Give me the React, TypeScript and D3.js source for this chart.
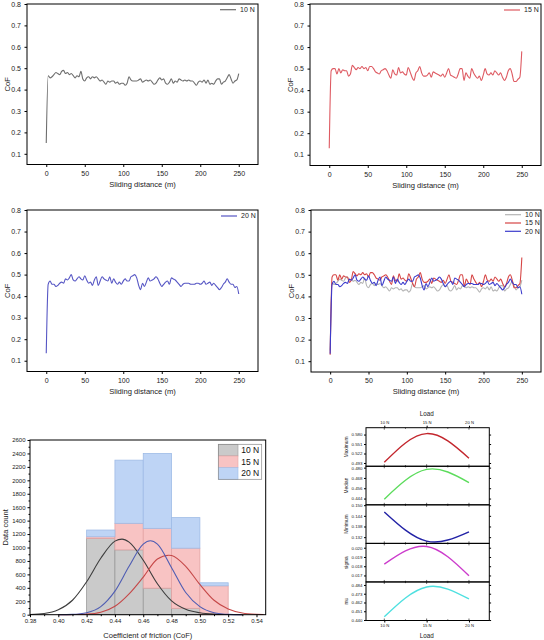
import React, { useEffect, useRef } from 'react';
import * as d3 from 'd3';

const FONT = 'Arial, "Liberation Sans", Helvetica, sans-serif';

// CoF readings, one every 2.5 m of sliding distance (0 .. 250 m)
const distance = d3.range(0, 250.001, 2.5);

const cof10 = [
  0.15, 0.465, 0.455, 0.46, 0.47, 0.48, 0.475, 0.47, 0.485, 0.49,
  0.475, 0.48, 0.47, 0.475, 0.465, 0.455, 0.465, 0.46, 0.485, 0.45,
  0.44, 0.455, 0.46, 0.45, 0.46, 0.455, 0.46, 0.45, 0.44, 0.445,
  0.435, 0.425, 0.44, 0.435, 0.44, 0.44, 0.43, 0.435, 0.425, 0.43,
  0.43, 0.42, 0.43, 0.46, 0.445, 0.44, 0.44, 0.44, 0.445, 0.45,
  0.435, 0.44, 0.445, 0.44, 0.445, 0.435, 0.425, 0.43, 0.445, 0.455,
  0.445, 0.45, 0.43, 0.425, 0.435, 0.45, 0.43, 0.44, 0.435, 0.45,
  0.445, 0.44, 0.445, 0.44, 0.445, 0.44, 0.44, 0.43, 0.42, 0.435,
  0.44, 0.435, 0.445, 0.43, 0.445, 0.425, 0.43, 0.425, 0.44, 0.45,
  0.45, 0.425, 0.435, 0.44, 0.455, 0.47, 0.45, 0.43, 0.44, 0.445,
  0.475,
];

const cof15 = [
  0.13, 0.49, 0.5, 0.5, 0.475, 0.5, 0.48, 0.495, 0.49, 0.49,
  0.465, 0.475, 0.515, 0.505, 0.495, 0.505, 0.5, 0.51, 0.5, 0.505,
  0.49, 0.51, 0.51, 0.5, 0.485, 0.48, 0.475, 0.49, 0.495, 0.5,
  0.49, 0.47, 0.455, 0.495, 0.475, 0.47, 0.505, 0.48, 0.485, 0.475,
  0.47, 0.505, 0.485, 0.46, 0.445, 0.48, 0.49, 0.51, 0.48, 0.465,
  0.465, 0.47, 0.48, 0.46, 0.485, 0.48, 0.475, 0.47, 0.465, 0.475,
  0.46, 0.48, 0.5, 0.47, 0.465, 0.46, 0.455, 0.475, 0.5, 0.5,
  0.445, 0.48, 0.465, 0.455, 0.5, 0.48, 0.465, 0.455, 0.465, 0.445,
  0.47, 0.5, 0.475, 0.47, 0.48, 0.47, 0.49, 0.48, 0.47, 0.48,
  0.46, 0.445, 0.46, 0.49, 0.5, 0.475, 0.44, 0.44, 0.45, 0.46,
  0.58,
];

const cof20 = [
  0.135, 0.455, 0.47, 0.455, 0.455, 0.445, 0.45, 0.46, 0.465, 0.46,
  0.48, 0.475, 0.485, 0.5, 0.475, 0.47, 0.48, 0.49, 0.48, 0.475,
  0.495, 0.475, 0.46, 0.465, 0.45, 0.475, 0.49, 0.45, 0.47, 0.49,
  0.48, 0.475, 0.47, 0.49, 0.46, 0.48, 0.465, 0.455, 0.465, 0.455,
  0.47, 0.48, 0.47, 0.47, 0.49, 0.495, 0.5, 0.485, 0.45, 0.43,
  0.46, 0.445, 0.465, 0.485, 0.47, 0.475, 0.48, 0.49, 0.48, 0.46,
  0.445, 0.455, 0.465, 0.47, 0.455, 0.485, 0.48, 0.475, 0.465, 0.455,
  0.445, 0.455, 0.46, 0.46, 0.46, 0.455, 0.455, 0.455, 0.46, 0.46,
  0.455, 0.46, 0.47, 0.455, 0.46, 0.465, 0.45, 0.46, 0.45, 0.44,
  0.43, 0.44, 0.455, 0.465, 0.48, 0.465, 0.455, 0.455, 0.44, 0.445,
  0.41,
];

const distanceTicks = [0, 50, 100, 150, 200, 250];
const cofTicks = [0.1, 0.2, 0.3, 0.4, 0.5, 0.6, 0.7, 0.8];

// histogram of CoF, stacked by load
const loadLabels = ['10 N', '15 N', '20 N'];
const binEdges = [0.42, 0.44, 0.46, 0.48, 0.5, 0.52];
const count10 = [1135, 965, 395, 95, 0];
const count15 = [25, 395, 890, 895, 430];
const count20 = [100, 940, 1115, 455, 45];
const histXTicks = [0.38, 0.4, 0.42, 0.44, 0.46, 0.48, 0.5, 0.52, 0.54];
const histYTicks = [0, 200, 400, 600, 800, 1000, 1200, 1400, 1600, 1800, 2000, 2200, 2400, 2600];

// normal fit curves
const fitCof10 = [0.38, 0.39, 0.4, 0.41, 0.42, 0.43, 0.44, 0.445, 0.45, 0.46, 0.47, 0.48, 0.49, 0.5, 0.51, 0.52, 0.53];
const fitCount10 = [4, 18, 73, 215, 490, 840, 1095, 1125, 1080, 810, 460, 205, 80, 28, 8, 2, 0];
const fitCof15 = [0.4, 0.41, 0.42, 0.43, 0.44, 0.45, 0.46, 0.47, 0.478, 0.48, 0.49, 0.5, 0.51, 0.52, 0.53, 0.54, 0.545];
const fitCount15 = [0, 2, 8, 36, 125, 310, 560, 830, 885, 880, 720, 450, 215, 85, 25, 6, 3];
const fitCof20 = [0.4, 0.41, 0.42, 0.43, 0.44, 0.45, 0.46, 0.465, 0.47, 0.48, 0.49, 0.5, 0.51, 0.52, 0.53];
const fitCount20 = [0, 5, 30, 120, 350, 720, 1050, 1100, 1050, 700, 330, 120, 30, 5, 0];

// statistics of CoF against load
const loads = [10, 15, 20];
const loadTicks = [10, 15, 20];
const maxCoF = [0.495, 0.583, 0.5075];
const medianCoF = [0.4433, 0.4779, 0.4626];
const minCoF = [0.1462, 0.1298, 0.135];
const sigmaCoF = [0.01822, 0.02013, 0.01696];
const muCoF = [0.4441, 0.4815, 0.4664];
const maxTicks = [0.493, 0.522, 0.551, 0.58];
const medianTicks = [0.444, 0.456, 0.468, 0.48];
const minTicks = [0.132, 0.138, 0.144, 0.15];
const sigmaTicks = [0.017, 0.018, 0.019, 0.02];
const muTicks = [0.44, 0.451, 0.462, 0.473, 0.484];

type Box = { left: number; top: number; right: number; bottom: number };
type Series = { values: number[]; color: string; label: string };

function styleAxis(sel: any, size: number) {
  sel.select('.domain').remove();
  sel.attr('font-family', FONT).attr('font-size', size);
  sel.selectAll('text').attr('fill', '#222');
  sel.selectAll('line').attr('stroke', '#000');
}

function frame(svg: any, b: Box) {
  svg
    .append('rect')
    .attr('x', b.left)
    .attr('y', b.top)
    .attr('width', b.right - b.left)
    .attr('height', b.bottom - b.top)
    .attr('fill', 'none')
    .attr('stroke', '#000')
    .attr('stroke-width', 1);
}

function label(svg: any, x: number, y: number, text: string, size: number, rotate = false) {
  const t = svg
    .append('text')
    .attr('text-anchor', 'middle')
    .attr('font-family', FONT)
    .attr('font-size', size)
    .attr('fill', '#222')
    .text(text);
  if (rotate) t.attr('transform', `translate(${x},${y}) rotate(-90)`).attr('dy', '0.35em');
  else t.attr('x', x).attr('y', y);
  return t;
}

function cofPanel(svg: any, box: Box, series: Series[], legendX: number, legendY: number, legendStep: number) {
  const x = d3.scaleLinear().domain([-25, 275]).range([box.left, box.right]);
  const y = d3.scaleLinear().domain([0.05, 0.8]).range([box.bottom, box.top]);
  const line = d3
    .line<number>()
    .x((_, i) => x(distance[i]))
    .y((d) => y(d))
    .curve(d3.curveMonotoneX);

  series.forEach((s) => {
    svg
      .append('path')
      .attr('d', line(s.values))
      .attr('fill', 'none')
      .attr('stroke', s.color)
      .attr('stroke-width', 1.1)
      .attr('stroke-linejoin', 'round');
  });

  frame(svg, box);

  svg
    .append('g')
    .attr('transform', `translate(0,${box.bottom})`)
    .call(d3.axisBottom(x).tickValues(distanceTicks).tickSize(2.5).tickPadding(4).tickFormat(d3.format('d')))
    .call(styleAxis, 7);
  svg
    .append('g')
    .attr('transform', `translate(${box.left},0)`)
    .call(d3.axisLeft(y).tickValues(cofTicks).tickSize(2.5).tickPadding(3.5).tickFormat(d3.format('.1f')))
    .call(styleAxis, 7);

  label(svg, (box.left + box.right) / 2, box.bottom + 22, 'Sliding distance (m)', 7.6);
  label(svg, box.left - 20, (box.top + box.bottom) / 2, 'CoF', 7.6, true);

  series.forEach((s, i) => {
    const ly = legendY + i * legendStep;
    svg
      .append('line')
      .attr('x1', legendX)
      .attr('x2', legendX + 16)
      .attr('y1', ly)
      .attr('y2', ly)
      .attr('stroke', s.color)
      .attr('stroke-width', 1.2);
    svg
      .append('text')
      .attr('x', legendX + 20)
      .attr('y', ly)
      .attr('dy', '0.35em')
      .attr('font-family', FONT)
      .attr('font-size', 7)
      .attr('fill', '#222')
      .text(s.label);
  });
}

function histogramPanel(svg: any) {
  const box: Box = { left: 30, top: 440, right: 265.7, bottom: 614.7 };
  const x = d3.scaleLinear().domain([0.38, 0.5465]).range([box.left, box.right]);
  const y = d3.scaleLinear().domain([0, 2600]).range([box.bottom, box.top]);

  const barFill = ['#cacaca', '#f8c3c3', '#bed4f5'];
  const barStroke = ['#9a9a9a', '#e3a3a3', '#9fbbe6'];
  const fitColor = ['#3d3d3d', '#c54848', '#4f5db3'];

  const rows = binEdges.slice(0, -1).map((x0, i) => ({
    x0,
    x1: binEdges[i + 1],
    '10 N': count10[i],
    '15 N': count15[i],
    '20 N': count20[i],
  }));
  const stacked = d3.stack<any>().keys(loadLabels)(rows);

  stacked.forEach((layer, k) => {
    svg
      .append('g')
      .selectAll('rect')
      .data(layer.filter((d: any) => d[1] > d[0]))
      .join('rect')
      .attr('x', (d: any) => x(d.data.x0))
      .attr('width', (d: any) => x(d.data.x1) - x(d.data.x0))
      .attr('y', (d: any) => y(d[1]))
      .attr('height', (d: any) => y(d[0]) - y(d[1]))
      .attr('fill', barFill[k])
      .attr('stroke', barStroke[k])
      .attr('stroke-width', 0.8);
  });

  const fits = [
    [fitCof10, fitCount10],
    [fitCof15, fitCount15],
    [fitCof20, fitCount20],
  ];
  fits.forEach(([xs, ys], k) => {
    const line = d3
      .line<number>()
      .x((_, i) => x(xs[i]))
      .y((d) => y(d))
      .curve(d3.curveMonotoneX);
    svg
      .append('path')
      .attr('d', line(ys))
      .attr('fill', 'none')
      .attr('stroke', fitColor[k])
      .attr('stroke-width', 1.1);
  });

  frame(svg, box);

  svg
    .append('g')
    .attr('transform', `translate(0,${box.bottom})`)
    .call(d3.axisBottom(x).tickValues(histXTicks).tickSize(2.5).tickPadding(2).tickFormat(d3.format('.2f')))
    .call(styleAxis, 6);
  svg
    .append('g')
    .attr('transform', `translate(0,${box.bottom})`)
    .call(d3.axisBottom(x).tickValues(histXTicks.map((t) => t + 0.01).filter((t) => t < 0.546)).tickSize(1.5).tickFormat(() => ''))
    .call(styleAxis, 6);
  svg
    .append('g')
    .attr('transform', `translate(${box.left},0)`)
    .call(d3.axisLeft(y).tickValues(histYTicks).tickSize(2.5).tickPadding(2).tickFormat(d3.format('d')))
    .call(styleAxis, 6);
  svg
    .append('g')
    .attr('transform', `translate(${box.left},0)`)
    .call(d3.axisLeft(y).tickValues(histYTicks.slice(0, -1).map((t) => t + 100)).tickSize(1.5).tickFormat(() => ''))
    .call(styleAxis, 6);

  label(svg, (box.left + box.right) / 2, box.bottom + 23, 'Coefficient of friction (CoF)', 7.5);
  label(svg, 5, (box.top + box.bottom) / 2, 'Data count', 7.5, true);

  // legend
  const lg = { left: 218.3, top: 444.3, right: 261.7, bottom: 479.3 };
  const rowH = (lg.bottom - lg.top) / loadLabels.length;
  loadLabels.forEach((name, k) => {
    svg
      .append('rect')
      .attr('x', lg.left)
      .attr('y', lg.top + k * rowH)
      .attr('width', 19.7)
      .attr('height', rowH)
      .attr('fill', barFill[k])
      .attr('stroke', barStroke[k])
      .attr('stroke-width', 0.6);
    svg
      .append('text')
      .attr('x', lg.left + 23)
      .attr('y', lg.top + (k + 0.5) * rowH)
      .attr('dy', '0.35em')
      .attr('font-family', FONT)
      .attr('font-size', 8.5)
      .attr('fill', '#111')
      .text(name);
  });
  svg
    .append('rect')
    .attr('x', lg.left)
    .attr('y', lg.top)
    .attr('width', lg.right - lg.left)
    .attr('height', lg.bottom - lg.top)
    .attr('fill', 'none')
    .attr('stroke', '#8a8a8a')
    .attr('stroke-width', 0.7);
}

function loadPanels(svg: any) {
  const left = 366;
  const right = 489.3;
  const top = 427.7;
  const bottom = 620.5;
  const stats = [
    { name: 'Maximum', values: maxCoF, ticks: maxTicks, domain: [0.483, 0.601], color: '#c3262d' },
    { name: 'Median', values: medianCoF, ticks: medianTicks, domain: [0.4367, 0.4816], color: '#5cdc5c' },
    { name: 'Minimum', values: minCoF, ticks: minTicks, domain: [0.1285, 0.1502], color: '#2222a6' },
    { name: 'sigma', values: sigmaCoF, ticks: sigmaTicks, domain: [0.0163, 0.02047], color: '#cc3ccc' },
    { name: 'mu', values: muCoF, ticks: muTicks, domain: [0.4394, 0.4878], color: '#4ee0e0' },
  ];
  const h = (bottom - top) / stats.length;
  const x = d3.scaleLinear().domain([7.84, 22.4]).range([left, right]);
  const minorLoads = [12.5, 17.5];

  stats.forEach((p, i) => {
    const t = top + i * h;
    const b = t + h;
    const y = d3.scaleLinear().domain(p.domain).range([b, t]);
    const line = d3
      .line<number>()
      .x((_, j) => x(loads[j]))
      .y((d) => y(d))
      .curve(d3.curveNatural);
    svg
      .append('path')
      .attr('d', line(p.values))
      .attr('fill', 'none')
      .attr('stroke', p.color)
      .attr('stroke-width', 1.4);

    frame(svg, { left, top: t, right, bottom: b });

    svg
      .append('g')
      .attr('transform', `translate(${left},0)`)
      .call(d3.axisLeft(y).tickValues(p.ticks).tickSize(2).tickPadding(1.5).tickFormat(d3.format('.3f')))
      .call(styleAxis, 4.4);
    svg
      .append('g')
      .attr('transform', `translate(${right},0)`)
      .call(d3.axisRight(y).tickValues(p.ticks).tickSize(1.8).tickFormat(() => ''))
      .call(styleAxis, 4.4);

    // inner load ticks on each panel edge
    [t, b].forEach((edge, e) => {
      const dir = e === 0 ? 1 : -1;
      loadTicks.concat(minorLoads).forEach((v) => {
        const len = loadTicks.includes(v) ? 2 : 1.2;
        svg
          .append('line')
          .attr('x1', x(v))
          .attr('x2', x(v))
          .attr('y1', edge)
          .attr('y2', edge + dir * len)
          .attr('stroke', '#000')
          .attr('stroke-width', 0.6);
      });
    });

    label(svg, 346.5, (t + b) / 2, p.name, 4.8, true);
  });

  svg
    .append('g')
    .attr('transform', `translate(0,${top})`)
    .call(d3.axisTop(x).tickValues(loadTicks).tickSize(2).tickPadding(1.5).tickFormat((d: any) => `${d} N`))
    .call(styleAxis, 4.2);
  svg
    .append('g')
    .attr('transform', `translate(0,${bottom})`)
    .call(d3.axisBottom(x).tickValues(loadTicks).tickSize(2).tickPadding(1.5).tickFormat((d: any) => `${d} N`))
    .call(styleAxis, 4.2);

  label(svg, x(15), 415.5, 'Load', 6.3);
  label(svg, x(15), 638, 'Load', 6.3);
}

export default function App() {
  const ref = useRef<SVGSVGElement>(null);

  useEffect(() => {
    const svg = d3.select(ref.current);
    svg.selectAll('*').remove();

    cofPanel(svg, { left: 27, top: 4, right: 258, bottom: 164.5 }, [{ values: cof10, color: '#6e6e6e', label: '10 N' }], 220, 9.7, 8.3);
    cofPanel(svg, { left: 310, top: 4, right: 541, bottom: 165.5 }, [{ values: cof15, color: '#de5a62', label: '15 N' }], 504, 10, 8.3);
    cofPanel(svg, { left: 27, top: 210, right: 258, bottom: 371.5 }, [{ values: cof20, color: '#5656c4', label: '20 N' }], 221, 216, 8.3);
    cofPanel(
      svg,
      { left: 311, top: 210, right: 541, bottom: 372 },
      [
        { values: cof10, color: '#b4b4b4', label: '10 N' },
        { values: cof15, color: '#d64545', label: '15 N' },
        { values: cof20, color: '#3b3bcc', label: '20 N' },
      ],
      505,
      214.7,
      8.3
    );

    histogramPanel(svg);
    loadPanels(svg);
  }, []);

  return (
    <svg
      ref={ref}
      width={544}
      height={640}
      style={{ position: 'absolute', left: 0, top: 0, background: '#fff' }}
    />
  );
}
